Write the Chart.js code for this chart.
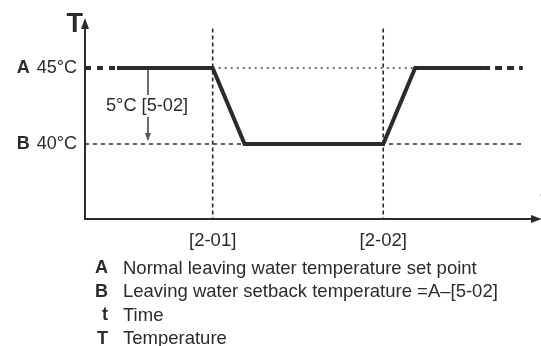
<!DOCTYPE html>
<html>
<head>
<meta charset="utf-8">
<script src="https://cdn.jsdelivr.net/npm/chart.js@4"></script>
<style>
  html, body { margin: 0; padding: 0; background: #fff; }
  #wrap { width: 541px; height: 346px; }
</style>
</head>
<body>
<div id="wrap"><canvas id="chart" width="541" height="346"></canvas></div>
<script>
// time axis is schematic (0..100), temperatures in °C
var profileTime = [7, 28, 35, 65.4, 72.4, 87.3];
var profileTemp = [45, 45, 40, 40, 45, 45];
var leadTime = [0, 7];
var tailTime = [87.3, 96];
var setTemps = [45, 40];
var setLetters = ['A', 'B'];
var setLabels = ['45°C', '40°C'];
var setbackTime = 13.8;
var setbackLabel = '5°C [5-02]';
var markTimes = [28, 65.4];
var markLabels = ['[2-01]', '[2-02]'];
var legendKeys = ['A', 'B', 't', 'T'];
var legendTexts = [
    'Normal leaving water temperature set point',
    'Leaving water setback temperature =A\u2013[5-02]',
    'Time',
    'Temperature'
];

var INK = '#2b2b2b';
var FONT = '"Liberation Sans", Arial, sans-serif';

function pts(xs, ys) {
    return xs.map(function (x, i) { return { x: x, y: ys[i] }; });
}

var yMin = 35.066, yMax = 48.289;

var datasets = [
    // setback level B, thin dashes across the whole chart
    { data: pts([0, 96], [setTemps[1], setTemps[1]]), borderColor: INK, borderWidth: 1.6, borderDash: [4, 4] },
    // set point A, dotted between the two switch times
    { data: pts([markTimes[0], 72.4], [setTemps[0], setTemps[0]]), borderColor: '#444', borderWidth: 1.4, borderDash: [2, 4] }
];
markTimes.forEach(function (t) {
    datasets.push({ data: pts([t, t], [47.6, yMin]), borderColor: INK, borderWidth: 1.6, borderDash: [4, 3] });
});
datasets.push(
    // temperature profile
    { data: pts(profileTime, profileTemp), borderColor: INK, borderWidth: 4, borderJoinStyle: 'miter' },
    { data: pts(leadTime, [45, 45]), borderColor: INK, borderWidth: 4, borderDash: [6, 6] },
    { data: pts(tailTime, [45, 45]), borderColor: INK, borderWidth: 4, borderDash: [7, 5] },
    // offset arrow between A and B
    { data: pts([setbackTime, setbackTime], [setTemps[0], setTemps[1] + 0.3]), borderColor: '#555', borderWidth: 1 }
);
datasets.forEach(function (d) {
    d.pointRadius = 0;
    d.fill = false;
    d.tension = 0;
    d.clip = false;
});

var decor = {
    id: 'decor',
    beforeDatasetsDraw: function (chart) {
        var ctx = chart.ctx, a = chart.chartArea;
        ctx.save();
        ctx.strokeStyle = INK;
        ctx.fillStyle = INK;
        ctx.lineWidth = 2;
        // axes
        ctx.beginPath();
        ctx.moveTo(a.left, a.top + 6);
        ctx.lineTo(a.left, a.bottom);
        ctx.lineTo(a.right - 6, a.bottom);
        ctx.stroke();
        ctx.beginPath();
        ctx.moveTo(a.left, a.top);
        ctx.lineTo(a.left - 4, a.top + 11);
        ctx.lineTo(a.left + 4, a.top + 11);
        ctx.closePath();
        ctx.fill();
        ctx.beginPath();
        ctx.moveTo(a.right + 1, a.bottom);
        ctx.lineTo(a.right - 10, a.bottom - 4);
        ctx.lineTo(a.right - 10, a.bottom + 4);
        ctx.closePath();
        ctx.fill();
        ctx.restore();
    },
    afterDatasetsDraw: function (chart) {
        var ctx = chart.ctx, a = chart.chartArea;
        var x = chart.scales.x, y = chart.scales.y;
        ctx.save();
        ctx.fillStyle = INK;

        // arrow head of the offset marker
        var ax = x.getPixelForValue(setbackTime), ay = y.getPixelForValue(setTemps[1]) - 3;
        ctx.beginPath();
        ctx.moveTo(ax, ay);
        ctx.lineTo(ax - 3, ay - 8);
        ctx.lineTo(ax + 3, ay - 8);
        ctx.closePath();
        ctx.fillStyle = '#555';
        ctx.fill();
        ctx.fillStyle = INK;

        // axis letters
        ctx.textBaseline = 'alphabetic';
        ctx.font = 'bold 27px ' + FONT;
        ctx.textAlign = 'right';
        ctx.fillText('T', a.left - 2, 32);
        ctx.font = 'bold 18px ' + FONT;
        ctx.textAlign = 'left';
        ctx.fillText('t', a.right - 0.5, 204);

        // set point labels
        ctx.textBaseline = 'middle';
        setTemps.forEach(function (t, i) {
            var py = y.getPixelForValue(t);
            ctx.textAlign = 'right';
            ctx.font = '18px ' + FONT;
            ctx.fillText(setLabels[i], a.left - 8, py);
            var w = ctx.measureText(setLabels[i]).width;
            ctx.font = 'bold 18px ' + FONT;
            ctx.fillText(setLetters[i], a.left - 8 - w - 7, py);
        });

        // offset label sits on a white patch over the arrow shaft
        ctx.font = '18.2px ' + FONT;
        ctx.textAlign = 'left';
        var lw = ctx.measureText(setbackLabel).width;
        ctx.fillStyle = '#fff';
        ctx.fillRect(104, 95, lw + 4, 22);
        ctx.fillStyle = INK;
        ctx.fillText(setbackLabel, 106, 106);

        // switch time labels
        ctx.font = '18.5px ' + FONT;
        ctx.textAlign = 'center';
        markTimes.forEach(function (t, i) {
            ctx.fillText(markLabels[i], x.getPixelForValue(t), 241);
        });

        // key
        legendKeys.forEach(function (k, i) {
            var ly = 268.5 + i * 23.5;
            ctx.font = 'bold 18px ' + FONT;
            ctx.textAlign = 'right';
            ctx.fillText(k, 108, ly);
            ctx.font = '18.5px ' + FONT;
            ctx.textAlign = 'left';
            ctx.fillText(legendTexts[i], 123, ly);
        });
        ctx.restore();
    }
};

var chart = new Chart(document.getElementById('chart').getContext('2d'), {
    type: 'line',
    data: { datasets: datasets },
    options: {
        responsive: false,
        animation: false,
        layout: { padding: { left: 85, right: 0, top: 18, bottom: 127 } },
        plugins: { legend: { display: false }, tooltip: { enabled: false } },
        scales: {
            x: { type: 'linear', min: 0, max: 100, display: false },
            y: { type: 'linear', min: yMin, max: yMax, display: false }
        }
    },
    plugins: [decor]
});
</script>
</body>
</html>
